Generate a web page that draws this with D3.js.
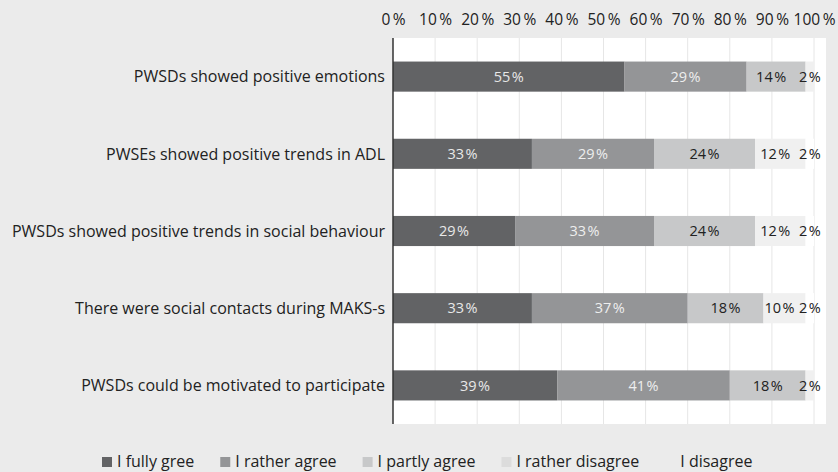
<!DOCTYPE html>
<html lang="en">
<head>
    <meta charset="utf-8" />
    <script src="https://d3js.org/d3.v7.min.js"></script>
    <style>
        body {
            margin: 0;
            background: #ebebeb;
            font-family: "Open Sans", "Noto Sans", sans-serif;
        }
    </style>
</head>
<body>
    <script>
        var width = 838, height = 472;

        // data
        var categories = [
            "PWSDs showed positive emotions",
            "PWSEs showed positive trends in ADL",
            "PWSDs showed positive trends in social behaviour",
            "There were social contacts during MAKS-s",
            "PWSDs could be motivated to participate"
        ];
        var seriesNames = ["I fully gree", "I rather agree", "I partly agree", "I rather disagree", "I disagree"];
        var fullyAgree    = [55, 33, 29, 33, 39];
        var ratherAgree   = [29, 29, 33, 37, 41];
        var partlyAgree   = [14, 24, 24, 18, 18];
        var ratherDisagree = [2, 12, 12, 10, 2];
        var disagree      = [0, 2, 2, 2, 0];
        var tickValues = [0, 10, 20, 30, 40, 50, 60, 70, 80, 90, 100];

        var colors = ["#626365", "#949597", "#c7c8c9", "#f0f0f0", "#ffffff"];
        var swatchColors = ["#626365", "#949597", "#c7c8c9", "#dcdcdc", "#ebebeb"];
        var textColors = ["#e8e8e8", "#eeeeee", "#222", "#222", "#222"];

        var margin = { top: 38, right: 12, bottom: 48, left: 393 };
        var plotRight = 814;

        var svg = d3.select("body").append("svg")
            .attr("width", width)
            .attr("height", height);

        var x = d3.scaleLinear().domain([0, 100]).range([margin.left, plotRight]);
        var y = d3.scaleBand().domain(categories)
            .range([margin.top, height - margin.bottom])
            .paddingInner(0.61).paddingOuter(0.305);

        // white plot area
        svg.append("rect")
            .attr("x", margin.left).attr("y", margin.top)
            .attr("width", width - margin.right - margin.left)
            .attr("height", height - margin.bottom - margin.top)
            .attr("fill", "#fff");

        // grid lines
        svg.append("g").selectAll("line")
            .data(tickValues.slice(1))
            .join("line")
            .attr("x1", d => x(d)).attr("x2", d => x(d))
            .attr("y1", margin.top).attr("y2", height - margin.bottom)
            .attr("stroke", "#e6e6e6").attr("stroke-width", 1);

        // top axis labels
        var xAxis = d3.axisTop(x).tickValues(tickValues)
            .tickFormat(d => d + "\u2009%").tickSize(0).tickPadding(0);
        var ax = svg.append("g").attr("transform", "translate(0,25)").call(xAxis);
        ax.select(".domain").remove();
        ax.selectAll("text").attr("font-size", 15.5).attr("fill", "#222")
            .attr("font-family", "'Open Sans', sans-serif").attr("dy", 0);

        // stacked data
        var seriesValues = [fullyAgree, ratherAgree, partlyAgree, ratherDisagree, disagree];
        var rows = categories.map(function (c, i) {
            var o = { cat: c };
            seriesNames.forEach(function (s, j) { o[s] = seriesValues[j][i]; });
            return o;
        });
        var stacked = d3.stack().keys(seriesNames)(rows);

        var layers = svg.append("g").selectAll("g")
            .data(stacked)
            .join("g")
            .attr("fill", (d, i) => colors[i]);

        layers.selectAll("rect")
            .data(d => d)
            .join("rect")
            .attr("x", d => x(d[0]))
            .attr("y", d => y(d.data.cat))
            .attr("width", d => x(d[1]) - x(d[0]))
            .attr("height", y.bandwidth());

        // segment labels (small ones nudged left so they don't run into the 2%)
        stacked.forEach(function (layer, i) {
            svg.append("g").selectAll("text")
                .data(layer.filter(d => d[1] - d[0] > 0))
                .join("text")
                .attr("x", d => (x(d[0]) + x(d[1])) / 2)
                .attr("dx", d => (d[1] - d[0] <= 14 && d[1] < 99) ? -5 : 0)
                .attr("y", d => y(d.data.cat) + y.bandwidth() / 2)
                .attr("dy", "0.36em")
                .attr("text-anchor", "middle")
                .attr("font-size", 14.5)
                .attr("fill", textColors[i])
                .text(d => (d[1] - d[0]) + "\u200A%");
        });

        // axis line
        svg.append("line")
            .attr("x1", margin.left).attr("x2", margin.left)
            .attr("y1", margin.top).attr("y2", height - margin.bottom)
            .attr("stroke", "#333").attr("stroke-width", 1.5);

        // category labels
        svg.append("g").selectAll("text")
            .data(categories)
            .join("text")
            .attr("x", 385)
            .attr("y", d => y(d) + y.bandwidth() / 2)
            .attr("dy", "0.36em")
            .attr("text-anchor", "end")
            .attr("font-size", 16)
            .attr("fill", "#222")
            .text(d => d);

        // legend
        var legend = svg.append("g").attr("transform", "translate(102,467)");
        var lx = 0;
        seriesNames.forEach(function (s, i) {
            legend.append("rect")
                .attr("x", lx).attr("y", -10)
                .attr("width", 10).attr("height", 10)
                .attr("fill", swatchColors[i]);
            var t = legend.append("text")
                .attr("x", lx + 15).attr("y", 0)
                .attr("font-size", 16).attr("fill", "#222")
                .text(s);
            lx += 15 + t.node().getComputedTextLength() + 26;
        });
    </script>
</body>
</html>
